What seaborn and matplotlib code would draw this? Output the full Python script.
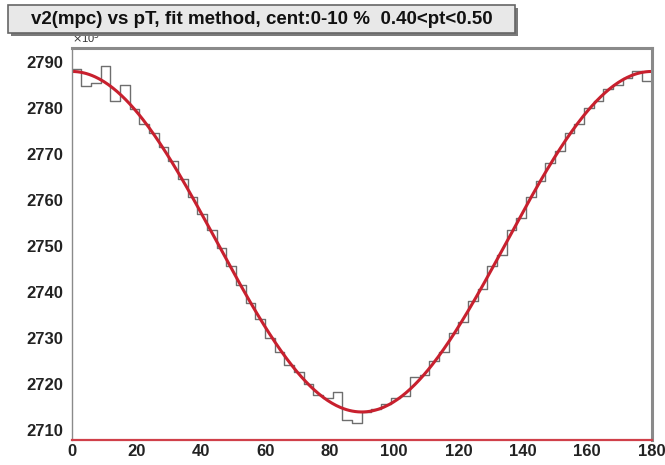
import numpy as np
import pandas as pd
import matplotlib
matplotlib.use("Agg")
import matplotlib.pyplot as plt
from matplotlib.patches import Rectangle
from matplotlib.ticker import MultipleLocator
import seaborn as sns

# ---- data ----
bin_edges = list(range(0, 181, 3))
counts = [
    2788.5, 2784.8, 2785.3, 2789.0, 2781.5, 2785.0, 2779.8, 2776.5, 2774.5, 2771.5,
    2768.5, 2764.5, 2760.5, 2757.0, 2753.5, 2749.5, 2745.5, 2741.5, 2737.5, 2734.0,
    2730.0, 2727.0, 2724.0, 2722.5, 2720.0, 2717.5, 2716.8, 2718.3, 2712.2, 2711.5,
    2713.8, 2714.5, 2715.5, 2717.0, 2717.3, 2721.5, 2721.8, 2725.0, 2727.0, 2731.0,
    2733.5, 2738.0, 2740.5, 2745.5, 2748.0, 2753.5, 2756.0, 2760.5, 2764.0, 2768.0,
    2770.5, 2774.5, 2776.5, 2780.0, 2781.5, 2784.0, 2785.0, 2786.5, 2788.0, 2785.8,
]
title_text = "v2(mpc) vs pT, fit method, cent:0-10 %  0.40<pt<0.50"
x_ticks = list(range(0, 181, 20))
y_ticks = list(range(2710, 2791, 10))

edges = np.array(bin_edges, dtype=float)
centers = (edges[:-1] + edges[1:]) / 2
df = pd.DataFrame({"phi": centers, "count": counts})

# least-squares fit  A + B cos(2 phi)  to the histogram
M = np.column_stack([np.ones_like(centers), np.cos(np.deg2rad(2 * centers))])
coef, *_ = np.linalg.lstsq(M, np.array(counts), rcond=None)
phi_f = np.linspace(0, 180, 400)
fit_df = pd.DataFrame({"phi": phi_f,
                       "fit": coef[0] + coef[1] * np.cos(np.deg2rad(2 * phi_f))})

sns.set_theme(style="white")
plt.rcParams["font.family"] = ["Liberation Sans", "DejaVu Sans"]

W, H = 665, 465
fig = plt.figure(figsize=(W / 100, H / 100), dpi=100)
fig.patch.set_facecolor("white")
ax = fig.add_axes([0.108, 0.054, 0.872, 0.843])

sns.histplot(x=df["phi"], weights=df["count"], bins=bin_edges,
             element="step", fill=False, color="#6e6e6e", linewidth=1.0, ax=ax)
sns.lineplot(data=fit_df, x="phi", y="fit", color="#c8202e", linewidth=2.2, ax=ax)

ax.set_xlim(0, 180)
ax.set_ylim(2707.8, 2793.0)
ax.set_xlabel("")
ax.set_ylabel("")
ax.set_xticks(x_ticks)
ax.set_yticks(y_ticks)
ax.xaxis.set_minor_locator(MultipleLocator(5))
ax.yaxis.set_minor_locator(MultipleLocator(2))
ax.tick_params(axis="both", which="major", direction="in", length=9, width=0.9,
               color="#555555", labelsize=12)
ax.tick_params(axis="both", which="minor", direction="in", length=5, width=0.8,
               color="#555555")
ax.tick_params(axis="x", pad=3)
ax.tick_params(axis="y", pad=6)
for lab in ax.get_xticklabels() + ax.get_yticklabels():
    lab.set_fontweight("bold")
    lab.set_color("#222222")

for side in ["top", "right"]:
    ax.spines[side].set_color("#8a8a8a")
    ax.spines[side].set_linewidth(2.2)
ax.spines["left"].set_color("#8a8a8a")
ax.spines["left"].set_linewidth(1.0)
ax.spines["bottom"].set_color("#d0404a")
ax.spines["bottom"].set_linewidth(1.6)

ax.text(0.0, 1.004, r"$\times$10$^{3}$", transform=ax.transAxes, fontsize=8,
        ha="left", va="bottom", color="#333333")

# title box (ROOT-style pave with shadow)
bx0, bx1, by0, by1 = 8, 515, 5, 33
fig.patches.append(Rectangle(((bx0 + 3) / W, 1 - (by1 + 3) / H),
                             (bx1 - bx0) / W, (by1 - by0) / H,
                             transform=fig.transFigure, facecolor="#7a7a7a",
                             edgecolor="none", zorder=1))
fig.patches.append(Rectangle((bx0 / W, 1 - by1 / H),
                             (bx1 - bx0) / W, (by1 - by0) / H,
                             transform=fig.transFigure, facecolor="#e8e8e8",
                             edgecolor="#666666", linewidth=1.2, zorder=2))
fig.text((bx0 + bx1) / 2 / W, 1 - (by0 + by1) / 2 / H, title_text,
         ha="center", va="center", fontsize=13.5, fontweight="bold",
         color="#111111", zorder=3)

fig.savefig("out.png", dpi=100, facecolor="white")
